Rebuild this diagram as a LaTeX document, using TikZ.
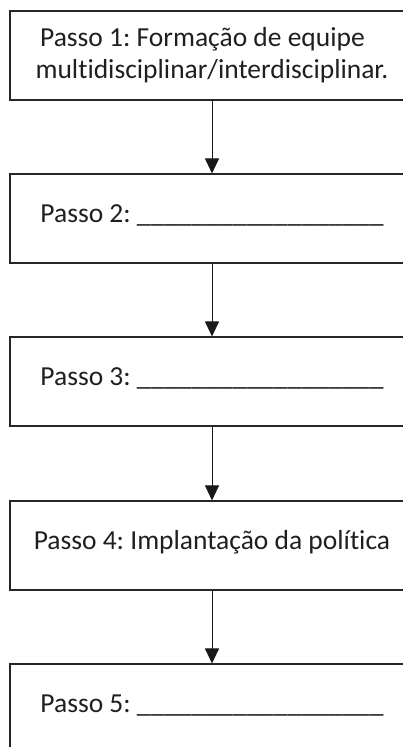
\documentclass[tikz,border=0pt]{standalone}
\usepackage{fontspec}
\setmainfont{Carlito}[Ligatures=NoCommon]
\usetikzlibrary{arrows.meta}
\begin{document}
\frenchspacing
\begin{tikzpicture}[x=1pt,y=-1pt,
  stepbox/.style={draw=black!85, line width=1.1pt, minimum width=404pt, minimum height=89pt, inner sep=0pt, align=center, font=\fontsize{27.5}{32}\selectfont, text=black!88},
  onel/.style={text height=18pt, text depth=11pt},
  conn/.style={draw=black!90, line width=1pt, -{Triangle[width=14pt,length=15pt]}}]
\useasboundingbox (0,0) rectangle (403,747);
\node[stepbox] (p1) at (212,55.5) {Passo 1: Formação de equipe\hspace*{19pt}\\multidisciplinar/interdisciplinar.};
\node[stepbox,onel] (p2) at (212,218.5) {Passo 2: \_\_\_\_\_\_\_\_\_\_\_\_\_\_\_\_\_\_};
\node[stepbox,onel] (p3) at (212,381.5) {Passo 3: \_\_\_\_\_\_\_\_\_\_\_\_\_\_\_\_\_\_};
\node[stepbox,onel] (p4) at (212,545.5) {Passo 4: Implantação da política};
\node[stepbox,onel] (p5) at (212,708.5) {Passo 5: \_\_\_\_\_\_\_\_\_\_\_\_\_\_\_\_\_\_};
\draw[conn] (p1) -- (p2);
\draw[conn] (p2) -- (p3);
\draw[conn] (p3) -- (p4);
\draw[conn] (p4) -- (p5);
\end{tikzpicture}
\end{document}
